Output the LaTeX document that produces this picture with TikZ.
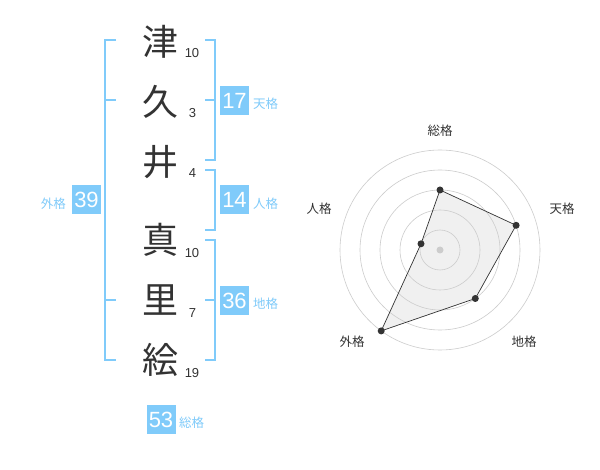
\documentclass[tikz,border=0pt]{standalone}
\usepackage{fontspec}
\setmainfont{Liberation Sans}
\newfontfamily\jp{Noto Sans CJK JP}
\definecolor{blu}{HTML}{80CBFA}
\definecolor{ink}{HTML}{333333}
\definecolor{grid}{HTML}{CCCCCC}
\definecolor{area}{HTML}{F0F0F0}
\begin{document}
\begin{tikzpicture}[x=1pt,y=-1pt,
  kanji/.style={inner sep=0pt,text=ink,font=\jp\fontsize{36}{36}\selectfont},
  strokes/.style={inner sep=0pt,text=ink,font=\fontsize{13}{13}\selectfont},
  valbox/.style={fill=blu,text=white,minimum width=29pt,minimum height=29pt,inner sep=0pt,font=\fontsize{22}{22}\selectfont},
  vallabel/.style={inner sep=0pt,text=blu,font=\jp\fontsize{12.5}{12.5}\selectfont},
  bracket/.style={draw=blu,line width=2pt},
  ring/.style={draw=grid,line width=0.6pt},
  axislabel/.style={inner sep=0pt,text=ink,font=\jp\fontsize{12.5}{12.5}\selectfont},
  dot/.style={circle,fill=ink,inner sep=0pt,minimum size=7pt}]
\useasboundingbox (0,0) rectangle (600,470);
\fill[white] (0,0) rectangle (600,470);
% characters
\node[kanji] (k1) at (160,42) {津};
\node[kanji] (k2) at (160,102) {久};
\node[kanji] (k3) at (160,162) {井};
\node[kanji] (k4) at (160,240) {真};
\node[kanji] (k5) at (160,300) {里};
\node[kanji] (k6) at (160,360) {絵};
% stroke counts
\node[strokes] (s1) at (192,53) {10};
\node[strokes] (s2) at (192.5,113) {3};
\node[strokes] (s3) at (192.5,173) {4};
\node[strokes] (s4) at (192,253) {10};
\node[strokes] (s5) at (192.5,313) {7};
\node[strokes] (s6) at (192,373) {19};
% brackets
\draw[bracket] (116,40) -- (105,40) -- (105,360) -- (116,360);
\draw[bracket] (105,100) -- (116,100);
\draw[bracket] (105,300) -- (116,300);
\draw[bracket] (205,40) -- (215,40) -- (215,160) -- (205,160);
\draw[bracket] (205,100) -- (215,100);
\draw[bracket] (205,170) -- (215,170) -- (215,230) -- (205,230);
\draw[bracket] (205,240) -- (215,240) -- (215,360) -- (205,360);
\draw[bracket] (205,300) -- (215,300);
% value boxes
\node[valbox] (ten) at (234.5,100.5) {17};
\node[vallabel,anchor=west] (tenl) at (253,104) {天格};
\node[valbox] (jin) at (234.5,200) {14};
\node[vallabel,anchor=west] (jinl) at (253,204) {人格};
\node[valbox] (chi) at (234.5,300.5) {36};
\node[vallabel,anchor=west] (chil) at (253,304) {地格};
\node[valbox] (gai) at (86.5,200) {39};
\node[vallabel,anchor=east] (gail) at (66,204) {外格};
\node[valbox] (sou) at (161,419.5) {53};
\node[vallabel,anchor=west] (soul) at (179,423) {総格};
% radar chart
\coordinate (c) at (440,250);
\coordinate (p1) at (440,190);
\coordinate (p2) at (516.1,225.3);
\coordinate (p3) at (475.3,298.5);
\coordinate (p4) at (381.2,330.9);
\coordinate (p5) at (421.0,243.8);
\fill[area] (p1) -- (p2) -- (p3) -- (p4) -- (p5) -- cycle;
\foreach \r in {20,40,60,80,100} \draw[ring] (c) circle[radius=\r];
\fill[grid] (c) circle[radius=3.5];
\draw[ink,line width=0.7pt] (p1) -- (p2) -- (p3) -- (p4) -- (p5) -- cycle;
\foreach \p in {p1,p2,p3,p4,p5} \node[dot] at (\p) {};
\node[axislabel] (a1) at (440,131) {総格};
\node[axislabel] (a2) at (562,209) {天格};
\node[axislabel] (a3) at (524,342) {地格};
\node[axislabel] (a4) at (352,342) {外格};
\node[axislabel] (a5) at (319,209) {人格};
\end{tikzpicture}
\end{document}
